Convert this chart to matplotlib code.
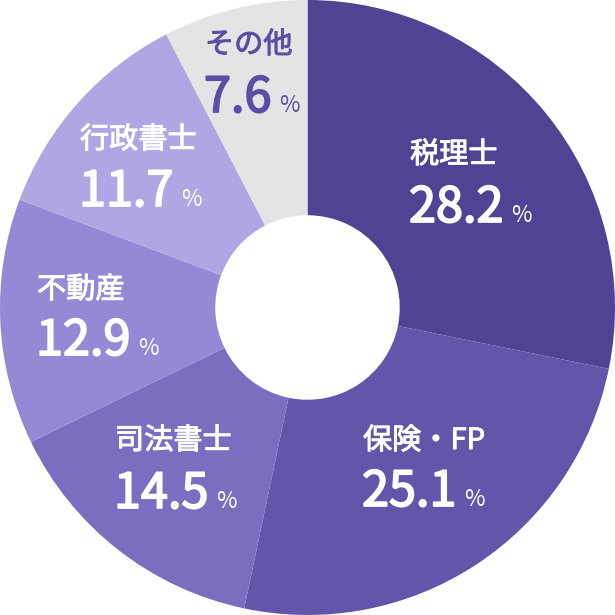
import matplotlib
matplotlib.use("Agg")
import matplotlib.pyplot as plt
import matplotlib.patheffects as pe

plt.rcParams['font.family'] = ['Noto Sans CJK JP', 'DejaVu Sans']

# データ
labels = ["税理士", "保険・FP", "司法書士", "不動産", "行政書士", "その他"]
shares = [28.2, 25.1, 14.5, 12.9, 11.7, 7.6]

colors = ["#504394", "#6356aa", "#7a6ec0", "#9489d4", "#aea7e4", "#e4e4e4"]
text_colors = ["white", "white", "white", "white", "white", "#5a4ea6"]
# ラベル位置 (ピクセル, 左端 / 名前の中心y / 数字のベースラインy)
label_pos = [(410, 155, 222), (363, 441, 506), (115, 441, 508),
             (37, 290, 355), (80, 140, 206), (205, 45, 112)]

W = 615
fig = plt.figure(figsize=(W / 100, W / 100), dpi=100)
ax = fig.add_axes([0, 0, 1, 1])
ax.pie(shares, colors=colors, startangle=90, counterclock=False, radius=1,
       wedgeprops=dict(width=0.7, linewidth=0))
ax.set_xlim(-1, 1)
ax.set_ylim(-1, 1)
ax.set_aspect("equal")
ax.axis("off")


def px(x, y):
    return (x - W / 2) / (W / 2), (W / 2 - y) / (W / 2)


renderer = fig.canvas.get_renderer()
for lab, val, c, (x, y1, y2) in zip(labels, shares, text_colors, label_pos):
    ax.text(*px(x, y1), lab, color=c, fontsize=21, ha="left", va="center",
            path_effects=[pe.withStroke(linewidth=0.7, foreground=c)])
    t = ax.text(*px(x - 1, y2), f"{val:.1f}", color=c, fontsize=35,
                ha="left", va="baseline",
                path_effects=[pe.withStroke(linewidth=1.3, foreground=c)])
    bb = t.get_window_extent(renderer)
    ax.annotate("%", xy=px(0, y2), xycoords="data",
                xytext=(bb.x1 + 8, 0), textcoords=("figure pixels", "offset pixels"),
                color=c, fontsize=16, ha="left", va="baseline")

fig.savefig("out.png", dpi=100)
